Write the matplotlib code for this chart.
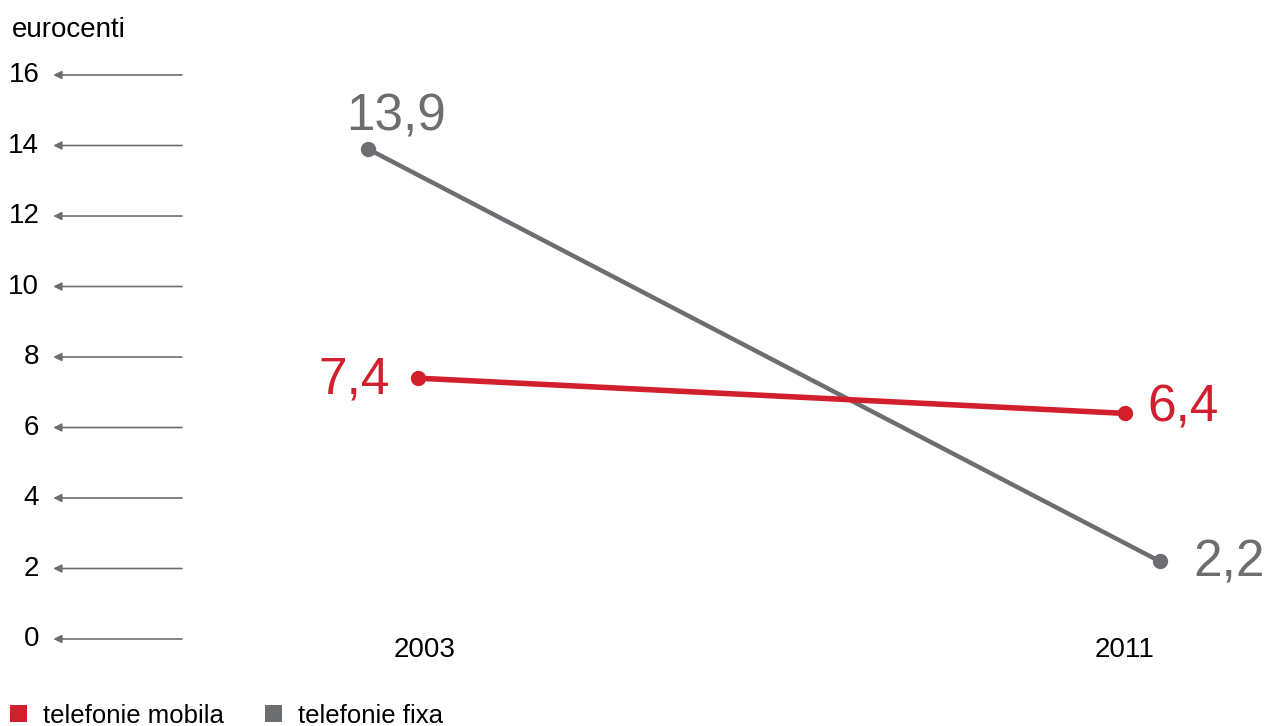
import matplotlib
matplotlib.use("Agg")
import matplotlib.pyplot as plt
import matplotlib.transforms as mtransforms
from matplotlib.patches import Rectangle

plt.rcParams["font.family"] = ["Liberation Sans", "DejaVu Sans"]

years = [2003, 2011]
year_labels = ["2003", "2011"]
mobila = [7.4, 6.4]
fixa = [13.9, 2.2]
mobila_labels = ["7,4", "6,4"]
fixa_labels = ["13,9", "2,2"]
y_ticks = [0, 2, 4, 6, 8, 10, 12, 14, 16]

RED = "#d11f2d"
GREY = "#6d6e71"

fig = plt.figure(figsize=(12.68, 7.26), dpi=100)
ax = fig.add_axes([0, 0, 1, 1])
ax.set_xlim(1998.143, 2012.634)
ax.set_ylim(-2.468, 18.128)
ax.axis("off")

# y "ticks": arrows pointing to the labels
blend = mtransforms.blended_transform_factory(ax.transAxes, ax.transData)
for t in y_ticks:
    ax.annotate("", xy=(0.042, t), xytext=(0.1435, t), xycoords=blend, textcoords=blend,
                arrowprops=dict(arrowstyle="-|>", color=GREY, lw=1.2, mutation_scale=12,
                                shrinkA=0, shrinkB=0))
    ax.text(0.031, t, str(t), transform=blend, ha="right", va="center", fontsize=20, color="black")
ax.text(0.009, 0.949, "eurocenti", transform=ax.transAxes, ha="left", va="baseline", fontsize=20)

for x, lab in zip(years, year_labels):
    ax.text(x, -0.51, lab, ha="center", va="baseline", fontsize=20)

# lines (small horizontal shifts as in the original layout)
fixa_x = [years[0] - 0.65, years[1] + 0.4]
mobila_x = [years[0] - 0.08, years[1]]
ax.plot(fixa_x, fixa, color=GREY, lw=3.2, marker="o", markersize=10, solid_capstyle="round")
ax.plot(mobila_x, mobila, color=RED, lw=4, marker="o", markersize=10, solid_capstyle="round")

ax.annotate(fixa_labels[0], (fixa_x[0], fixa[0]), xytext=(28, 19), textcoords="offset pixels",
            ha="center", va="baseline", fontsize=37, color=GREY)
ax.annotate(fixa_labels[1], (fixa_x[1], fixa[1]), xytext=(33, -15), textcoords="offset pixels",
            ha="left", va="baseline", fontsize=37, color=GREY)
ax.annotate(mobila_labels[0], (mobila_x[0], mobila[0]), xytext=(-28, -15), textcoords="offset pixels",
            ha="right", va="baseline", fontsize=37, color=RED)
ax.annotate(mobila_labels[1], (mobila_x[1], mobila[1]), xytext=(22, -8), textcoords="offset pixels",
            ha="left", va="baseline", fontsize=37, color=RED)

# legend
for x0, color, label in [(0.008, RED, "telefonie mobila"), (0.209, GREY, "telefonie fixa")]:
    fig.add_artist(Rectangle((x0, 0.006), 0.0135, 0.0235, transform=fig.transFigure,
                             color=color, lw=0))
    fig.text(x0 + 0.026, 0.004, label, ha="left", va="baseline", fontsize=18.5)

fig.savefig("out.png", dpi=100)
